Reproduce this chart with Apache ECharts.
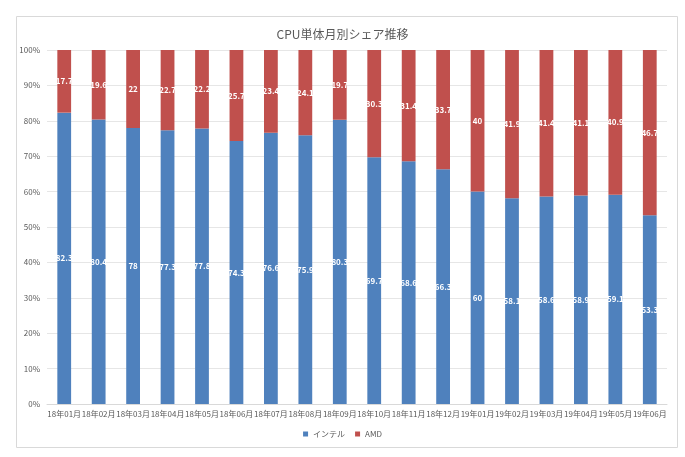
<!DOCTYPE html>
<html>
<head>
<meta charset="utf-8">
<script src="https://cdn.jsdelivr.net/npm/echarts@6/dist/echarts.min.js"></script>
<style>
html,body{margin:0;padding:0;background:#fff;}
#c{width:685px;height:457px;}
</style>
</head>
<body>
<div id="c"></div>
<script>
const categories = ['18年01月','18年02月','18年03月','18年04月','18年05月','18年06月','18年07月','18年08月','18年09月','18年10月','18年11月','18年12月','19年01月','19年02月','19年03月','19年04月','19年05月','19年06月'];
const intel = [82.3,80.4,78,77.3,77.8,74.3,76.6,75.9,80.3,69.7,68.6,66.3,60,58.1,58.6,58.9,59.1,53.3];
const amd = [17.7,19.6,22,22.7,22.2,25.7,23.4,24.1,19.7,30.3,31.4,33.7,40,41.9,41.4,41.1,40.9,46.7];
const seriesNames = ['インテル','AMD'];

const font = '"Noto Sans CJK JP", "Noto Sans", sans-serif';
const chart = echarts.init(document.getElementById('c'));
const labelCfg = {show:true, position:'inside', color:'#fff', fontSize:8, fontWeight:'bold', fontFamily:font};
chart.setOption({
  animation:false,
  textStyle:{fontFamily:font},
  graphic:[{type:'rect', shape:{x:16.5,y:16.5,width:661,height:431}, style:{fill:'none', stroke:'#d9d9d9', lineWidth:1}, silent:true, z:-1}],
  title:{text:'CPU単体月別シェア推移', left:'center', top:23, textStyle:{fontSize:12, fontWeight:'normal', color:'#595959', fontFamily:font}},
  legend:{bottom:14, left:'center', itemWidth:5, itemHeight:5, itemGap:10, icon:'rect', textStyle:{fontSize:8, color:'#595959', fontFamily:font}, data:seriesNames},
  grid:{left:47, right:18, top:50, bottom:53, containLabel:false},
  xAxis:{type:'category', data:categories, axisTick:{show:false}, axisLine:{lineStyle:{color:'#d9d9d9'}},
    axisLabel:{fontSize:8, color:'#595959', interval:0, margin:6, fontFamily:font}},
  yAxis:{type:'value', min:0, max:100, interval:10, axisLabel:{formatter:'{value}%', fontSize:8, color:'#595959', margin:7, fontFamily:font},
    splitLine:{lineStyle:{color:'#e6e6e6'}}, axisLine:{show:false}, axisTick:{show:false}},
  series:[
    {name:seriesNames[0], type:'bar', stack:'s', data:intel, barWidth:'40%', itemStyle:{color:'#4F81BD'}, label:labelCfg},
    {name:seriesNames[1], type:'bar', stack:'s', data:amd, barWidth:'40%', itemStyle:{color:'#C0504D'}, label:labelCfg}
  ]
});
</script>
</body>
</html>
